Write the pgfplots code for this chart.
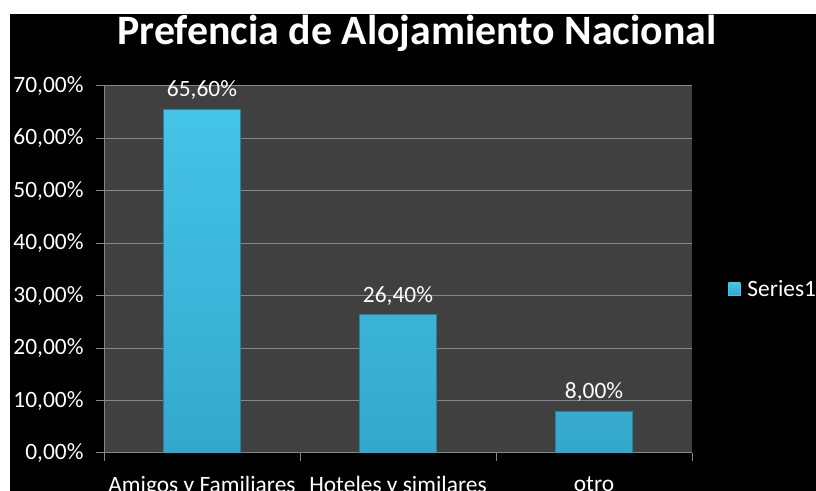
\documentclass[border=0pt]{standalone}
\usepackage{pgfplots}
\pgfplotsset{compat=1.18}
\usepackage{fontspec}
\setmainfont{Carlito}
\definecolor{plotbg}{RGB}{64,64,64}
\definecolor{gridc}{RGB}{134,134,134}
\definecolor{bartop}{RGB}{68,196,232}
\definecolor{barbot}{RGB}{52,168,204}
\definecolor{baredge}{RGB}{40,130,160}
\begin{document}
\begin{tikzpicture}[x=1bp,y=1bp]
\fill[white] (0,0) rectangle (816,491);
\fill[black] (10,0) rectangle (816,477);
\node[text=white,font=\bfseries\fontsize{42}{44}\selectfont] at (417,458) {Prefencia de Alojamiento Nacional};
\begin{axis}[
  at={(104bp,38bp)}, anchor=south west,
  scale only axis, width=588bp, height=367bp,
  xmin=-0.5, xmax=2.5, ymin=0, ymax=70,
  axis background/.style={fill=plotbg},
  axis lines*=left,
  axis line style={gridc, line width=1pt, -},
  ytick={0,10,...,70},
  yticklabels={{0,00\%},{10,00\%},{20,00\%},{30,00\%},{40,00\%},{50,00\%},{60,00\%},{70,00\%}},
  ymajorgrids, grid style={gridc, line width=1pt},
  xtick={0,1,2},
  xticklabels={Amigos y Familiares,Hoteles y similares,otro},
  minor xtick={-0.5,0.5,1.5,2.5},
  major x tick style={draw=none},
  minor x tick style={gridc, line width=1pt},
  minor tick length=8bp,
  major tick length=8bp,
  y tick style={gridc, line width=1pt},
  tick align=outside,
  xtick pos=bottom, ytick pos=left,
  ticklabel style={text=white, font=\fontsize{23.5}{25}\selectfont},
  yticklabel style={xshift=-9bp},
  xticklabel style={yshift=-12bp},
  /pgf/number format/assume math mode=true,
  legend style={at={(1.061,0.447)}, anchor=west, draw=none, fill=none,
    text=white, font=\fontsize{23.5}{25}\selectfont, inner xsep=0pt},
  legend image code/.code={\fill[bartop] (0bp,-6bp) rectangle (12bp,6bp);},
]
\addplot[ybar, bar width=77bp, top color=bartop, bottom color=barbot, draw=baredge,
  point meta=explicit symbolic,
  nodes near coords,
  every node near coord/.style={text=white, font=\fontsize{23.5}{25}\selectfont, anchor=south, yshift=6bp}]
  coordinates {(0,65.6) [65,60\%] (1,26.4) [26,40\%] (2,8.0) [8,00\%]};
\addlegendentry{\hspace{5bp}Series1}
\end{axis}
\pgfresetboundingbox
\useasboundingbox (0,0) rectangle (816,491);
\end{tikzpicture}
\end{document}
